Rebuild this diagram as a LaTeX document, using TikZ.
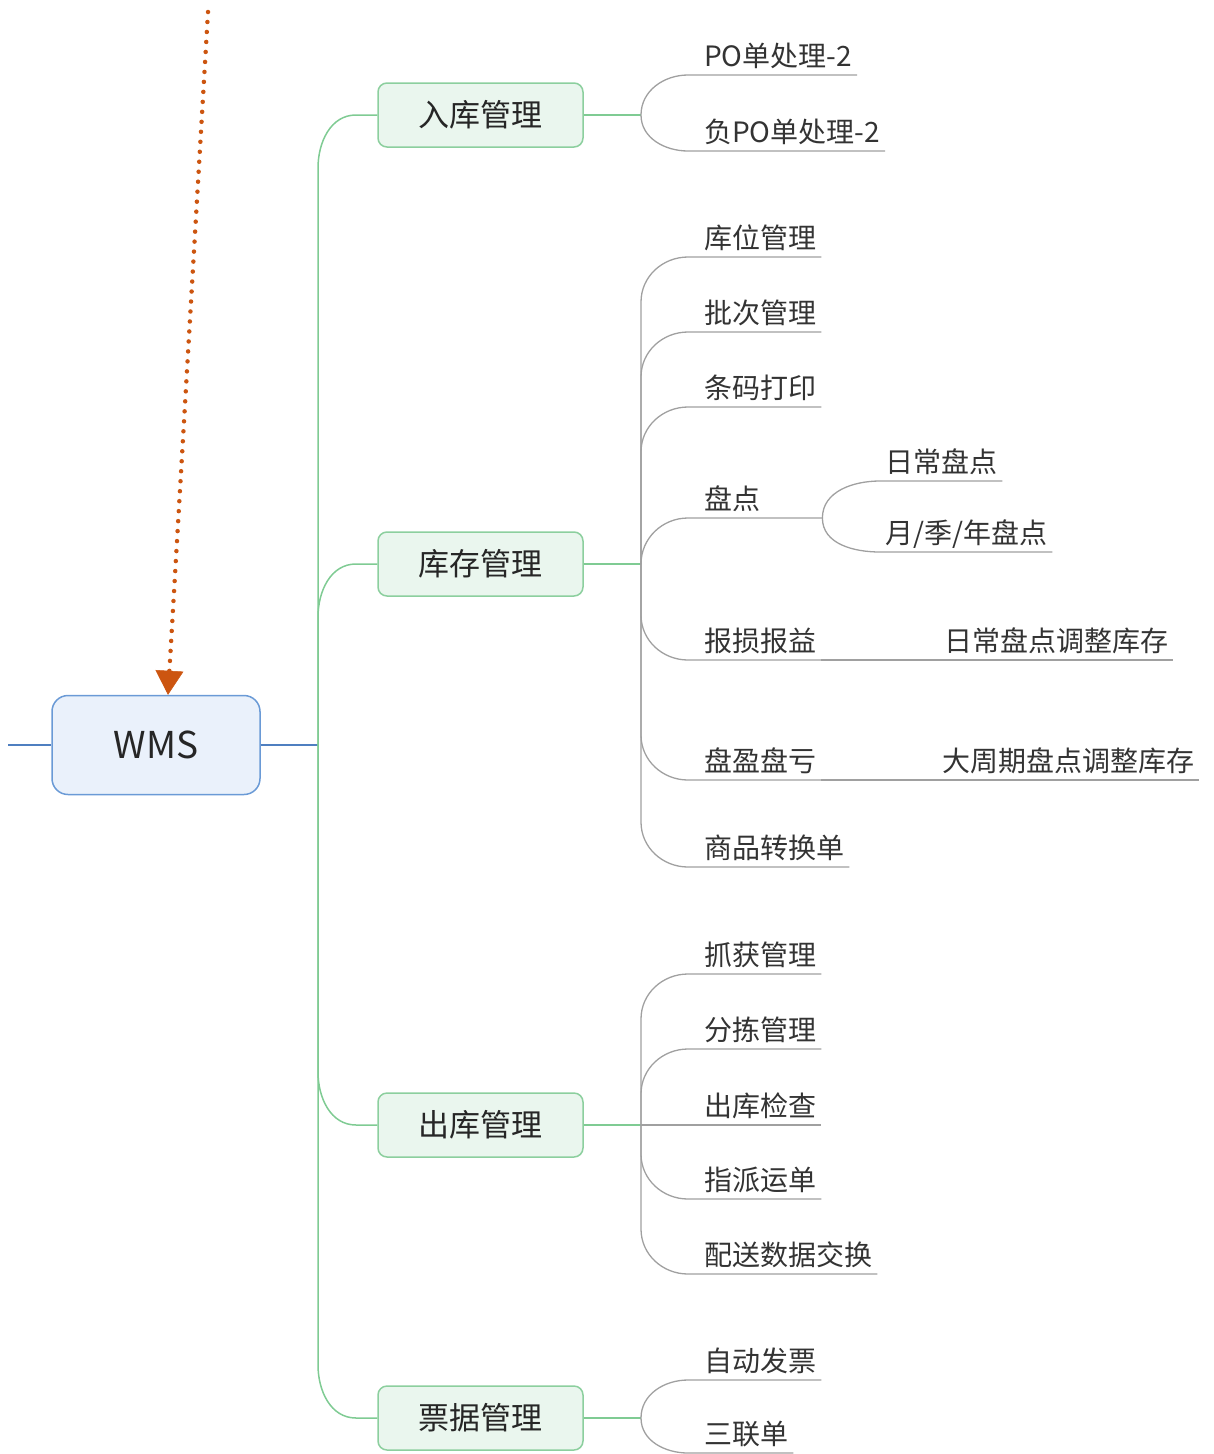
\documentclass[tikz,border=0pt]{standalone}
\usepackage{fontspec}
\setmainfont{Noto Sans CJK SC}
\usetikzlibrary{arrows.meta}
\definecolor{wmsfill}{HTML}{EAF1FB}
\definecolor{wmsdraw}{HTML}{6A9AD6}
\definecolor{wmsline}{HTML}{4F7FC0}
\definecolor{brfill}{HTML}{EAF6EE}
\definecolor{brdraw}{HTML}{8CCF9E}
\definecolor{grline}{HTML}{7FCB93}
\definecolor{lfline}{HTML}{A0A0A0}
\definecolor{txt}{HTML}{333333}
\definecolor{dotc}{HTML}{CC5510}
\begin{document}
\begin{tikzpicture}[x=1pt,y=-1pt,
  wms/.style={draw=wmsdraw, fill=wmsfill, line width=1.5pt, rounded corners=16pt,
    minimum width=208pt, minimum height=99pt, inner sep=0pt,
    font=\fontsize{37}{40}\selectfont, text=black!85},
  branch/.style={draw=brdraw, fill=brfill, line width=1.5pt, rounded corners=9pt,
    minimum width=205pt, minimum height=64pt, inner sep=0pt,
    font=\fontsize{31}{34}\selectfont, text=black!85},
  leaf/.style={anchor=south west, inner xsep=5pt, inner ysep=0pt, text depth=8pt,
    font=\fontsize{28}{30}\selectfont, text=txt},
  gline/.style={draw=lfline, line width=1.3pt},
  bline/.style={draw=grline, line width=1.5pt},
  wline/.style={draw=wmsline, line width=1.5pt},
  dotarrow/.style={draw=dotc, line width=4.5pt, line cap=round, dash pattern=on 0pt off 10pt,
    -{Triangle[width=28pt,length=24pt,line width=0.5pt,fill=dotc]}}
]
\useasboundingbox (0,0) rectangle (1214,1454);

% central node
\node[wms] (w) at (156,745) {WMS};
\coordinate (lft) at (8,745);
\coordinate (j) at (318,745);
\draw[wline] (lft) -- (w.west);
\draw[wline] (w.east) -- (j);

% branches
\node[branch] (b1) at (480.5,115) {入库管理};
\node[branch] (b2) at (480.5,564) {库存管理};
\node[branch] (b3) at (480.5,1125) {出库管理};
\node[branch] (b4) at (480.5,1418) {票据管理};

\draw[bline] (j) -- (318,168) to[out=90,in=180] (356,115) -- (b1.west);
\draw[bline] (j) -- (318,617) to[out=90,in=180] (356,564) -- (b2.west);
\draw[bline] (j) -- (318,1072) to[out=-90,in=180] (356,1125) -- (b3.west);
\draw[bline] (j) -- (318,1365) to[out=-90,in=180] (356,1418) -- (b4.west);

\coordinate (h1) at (641,115);
\coordinate (h2) at (641,564);
\coordinate (h3) at (641,1125);
\coordinate (h4) at (641,1418);
\draw[bline] (b1.east) -- (h1);
\draw[bline] (b2.east) -- (h2);
\draw[bline] (b3.east) -- (h3);
\draw[bline] (b4.east) -- (h4);

% 入库管理
\node[leaf] (a1) at (699,75) {PO单处理-2};
\node[leaf] (a2) at (699,151) {负PO单处理-2};
\draw[gline] (h1) to[out=90,in=180] (688,75) -- (a1.south east);
\draw[gline] (h1) to[out=-90,in=180] (688,151) -- (a2.south east);

% 库存管理
\node[leaf] (l1) at (699,257) {库位管理};
\node[leaf] (l2) at (699,332) {批次管理};
\node[leaf] (l3) at (699,407) {条码打印};
\node[leaf, text width=113pt] (l4) at (699,518) {盘点};
\node[leaf] (l5) at (699,660) {报损报益};
\node[leaf] (l6) at (699,780) {盘盈盘亏};
\node[leaf] (l7) at (699,867) {商品转换单};
\draw[gline] (h2) -- (641,302) to[out=90,in=180] (688,257) -- (l1.south east);
\draw[gline] (h2) -- (641,377) to[out=90,in=180] (688,332) -- (l2.south east);
\draw[gline] (h2) -- (641,452) to[out=90,in=180] (688,407) -- (l3.south east);
\draw[gline] (h2) to[out=90,in=180] (688,518) -- (l4.south east);
\draw[gline] (h2) -- (641,615) to[out=-90,in=180] (688,660) -- (l5.south east);
\draw[gline] (h2) -- (641,735) to[out=-90,in=180] (688,780) -- (l6.south east);
\draw[gline] (h2) -- (641,822) to[out=-90,in=180] (688,867) -- (l7.south east);

\node[leaf] (c1) at (880,481) {日常盘点};
\node[leaf] (c2) at (880,552) {月/季/年盘点};
\draw[gline] (l4.south east) to[out=90,in=180] (c1.south west) -- (c1.south east);
\draw[gline] (l4.south east) to[out=-90,in=180] (c2.south west) -- (c2.south east);

\node[leaf] (d1) at (939,660) {日常盘点调整库存};
\node[leaf] (d2) at (937,780) {大周期盘点调整库存};
\draw[gline] (l5.south east) -- (d1.south west) -- (d1.south east);
\draw[gline] (l6.south east) -- (d2.south west) -- (d2.south east);

% 出库管理
\node[leaf] (m1) at (699,974) {抓获管理};
\node[leaf] (m2) at (699,1049) {分拣管理};
\node[leaf] (m3) at (699,1125) {出库检查};
\node[leaf] (m4) at (699,1199) {指派运单};
\node[leaf] (m5) at (699,1274) {配送数据交换};
\draw[gline] (h3) -- (641,1019) to[out=90,in=180] (688,974) -- (m1.south east);
\draw[gline] (h3) -- (641,1094) to[out=90,in=180] (688,1049) -- (m2.south east);
\draw[gline] (h3) -- (m3.south east);
\draw[gline] (h3) -- (641,1154) to[out=-90,in=180] (688,1199) -- (m4.south east);
\draw[gline] (h3) -- (641,1229) to[out=-90,in=180] (688,1274) -- (m5.south east);

% 票据管理
\node[leaf] (n1) at (699,1380) {自动发票};
\node[leaf] (n2) at (699,1453) {三联单};
\draw[gline] (h4) to[out=90,in=180] (688,1380) -- (n1.south east);
\draw[gline] (h4) to[out=-90,in=180] (688,1453) -- (n2.south east);

% dotted arrow
\coordinate (ds) at (208,12);
\draw[dotarrow] (ds) -- ([xshift=12pt]w.north);
\end{tikzpicture}
\end{document}
